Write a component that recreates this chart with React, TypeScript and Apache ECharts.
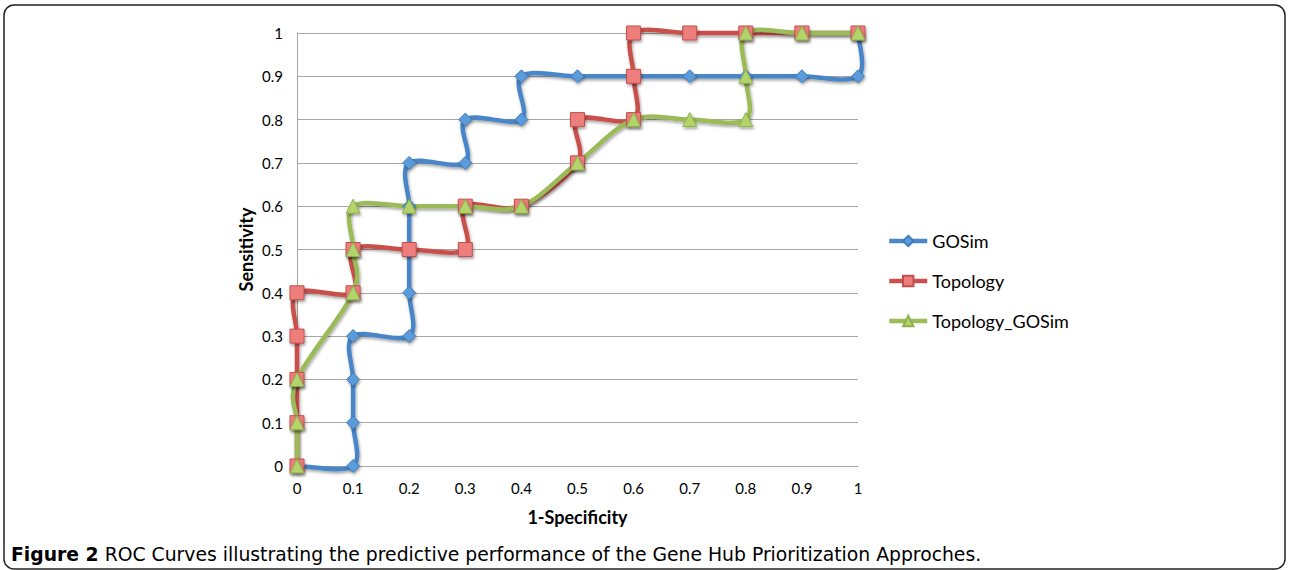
import React, { useEffect, useRef } from "react";
import * as echarts from "echarts";

const seriesNames = ["GOSim", "Topology", "Topology_GOSim"];

const gosimPoints: number[][] = [
  [0, 0], [0.1, 0], [0.1, 0.1], [0.1, 0.2], [0.1, 0.3], [0.2, 0.3], [0.2, 0.4],
  [0.2, 0.5], [0.2, 0.6], [0.2, 0.7], [0.3, 0.7], [0.3, 0.8], [0.4, 0.8],
  [0.4, 0.9], [0.5, 0.9], [0.6, 0.9], [0.7, 0.9], [0.8, 0.9], [0.9, 0.9],
  [1, 0.9], [1, 1],
];
const topologyPoints: number[][] = [
  [0, 0], [0, 0.1], [0, 0.2], [0, 0.3], [0, 0.4], [0.1, 0.4], [0.1, 0.5],
  [0.2, 0.5], [0.3, 0.5], [0.3, 0.6], [0.4, 0.6], [0.5, 0.7], [0.5, 0.8],
  [0.6, 0.8], [0.6, 0.9], [0.6, 1], [0.7, 1], [0.8, 1], [0.9, 1], [1, 1],
];
const topologyGosimPoints: number[][] = [
  [0, 0], [0, 0.1], [0, 0.2], [0.1, 0.4], [0.1, 0.5], [0.1, 0.6], [0.2, 0.6],
  [0.3, 0.6], [0.4, 0.6], [0.5, 0.7], [0.6, 0.8], [0.7, 0.8], [0.8, 0.8],
  [0.8, 0.9], [0.8, 1], [0.9, 1], [1, 1],
];

const captionBold = "Figure 2";
const captionText = " ROC Curves illustrating the predictive performance of the Gene Hub Prioritization Approches.";

const FONT = "Lato, 'Open Sans', sans-serif";
const CAP_FONT = "'DejaVu Sans', 'Open Sans', sans-serif";

const lineColors = ["#4A86C8", "#C9504C", "#9BBB59"];
const fillColors = ["#5B9BD9", "#EE7E7B", "#B3D46A"];
const borderColors = ["#3E7CC0", "#C0504D", "#8FB04E"];
const symbols = ["diamond", "rect", "triangle"];
const symbolSizes = [13, 14, 14];

const shadow = {
  shadowColor: "rgba(0,0,0,0.35)",
  shadowBlur: 3,
  shadowOffsetX: 1,
  shadowOffsetY: 2,
};

function splinePath(pts: number[][]): string {
  if (!pts.length) return "";
  let d = `M${pts[0][0]},${pts[0][1]}`;
  const n = pts.length;
  for (let i = 0; i < n - 1; i++) {
    const p0 = pts[i - 1] || pts[i];
    const p1 = pts[i];
    const p2 = pts[i + 1];
    const p3 = pts[i + 2] || pts[i + 1];
    const c1x = p1[0] + (p2[0] - p0[0]) / 6;
    const c1y = p1[1] + (p2[1] - p0[1]) / 6;
    const c2x = p2[0] - (p3[0] - p1[0]) / 6;
    const c2y = p2[1] - (p3[1] - p1[1]) / 6;
    d += ` C${c1x},${c1y} ${c2x},${c2y} ${p2[0]},${p2[1]}`;
  }
  return d;
}

export default function App() {
  const ref = useRef<HTMLDivElement>(null);
  useEffect(() => {
    if (!ref.current) return;
    const chart = echarts.init(ref.current, undefined, { renderer: "svg" });
    const allData = [gosimPoints, topologyPoints, topologyGosimPoints];

    const series: any[] = [];
    allData.forEach((data, i) => {
      series.push({
        name: seriesNames[i] + " curve",
        type: "custom",
        silent: true,
        data,
        renderItem: (params: any, api: any) => {
          if (params.dataIndex !== 0) return null;
          const pts = data.map((p) => api.coord(p));
          return {
            type: "path",
            shape: { pathData: splinePath(pts) },
            style: {
              fill: "none",
              stroke: lineColors[i],
              lineWidth: 4.5,
              lineJoin: "round",
              lineCap: "round",
              ...shadow,
            },
          };
        },
      });
      series.push({
        name: seriesNames[i],
        type: "line",
        data,
        symbol: symbols[i],
        symbolSize: symbolSizes[i],
        showAllSymbol: true,
        lineStyle: { color: lineColors[i], width: 0, opacity: 0 },
        itemStyle: {
          color: fillColors[i],
          borderColor: borderColors[i],
          borderWidth: 1,
          ...shadow,
        },
        emphasis: { disabled: true },
      });
    });

    chart.setOption({
      animation: false,
      textStyle: { fontFamily: FONT },
      grid: { left: 297, right: 432, top: 33, bottom: 104 },
      xAxis: {
        type: "value",
        min: 0,
        max: 1,
        interval: 0.1,
        name: "1-Specificity",
        nameLocation: "middle",
        nameGap: 42,
        nameTextStyle: { fontSize: 18, fontWeight: "bold", color: "#000", fontFamily: FONT },
        axisLine: { show: true, lineStyle: { color: "#a6a6a6", width: 1 } },
        axisTick: { show: false },
        axisLabel: { fontSize: 15, color: "#000", margin: 14, fontFamily: FONT },
        splitLine: { show: false },
      },
      yAxis: {
        type: "value",
        min: 0,
        max: 1,
        interval: 0.1,
        name: "Sensitivity",
        nameLocation: "middle",
        nameGap: 42,
        nameRotate: 90,
        nameTextStyle: { fontSize: 18, fontWeight: "bold", color: "#000", fontFamily: FONT },
        axisLine: { show: true, lineStyle: { color: "#a6a6a6", width: 1 } },
        axisTick: { show: false },
        axisLabel: { fontSize: 15, color: "#000", margin: 14, fontFamily: FONT },
        splitLine: { show: true, lineStyle: { color: "#a6a6a6", width: 1 } },
      },
      legend: {
        orient: "vertical",
        left: 887,
        top: 232,
        padding: 0,
        itemWidth: 38,
        itemHeight: 13,
        itemGap: 22,
        textStyle: { fontSize: 18, color: "#000", fontFamily: FONT },
        data: seriesNames.map((name, i) => ({
          name,
          lineStyle: { color: lineColors[i], width: 4.5, opacity: 1 },
        })),
      },
      series,
      graphic: [
        {
          type: "rect",
          shape: { x: 4, y: 5, width: 1281, height: 564, r: 10 },
          style: { fill: "none", stroke: "#222", lineWidth: 1.5 },
          silent: true,
        },
        {
          type: "text",
          left: 11,
          top: 545,
          style: {
            text: "{b|" + captionBold + "}" + captionText,
            rich: {
              b: {
                fontWeight: "bold",
                fontSize: 18.8,
                fontFamily: CAP_FONT,
                fill: "#000",
              },
            },
            fontSize: 18.8,
            fontFamily: CAP_FONT,
            fill: "#000",
          },
        },
      ],
    });
    return () => chart.dispose();
  }, []);
  return (
    <div
      ref={ref}
      style={{ position: "fixed", left: 0, top: 0, width: 1290, height: 570, background: "#fff" }}
    />
  );
}
